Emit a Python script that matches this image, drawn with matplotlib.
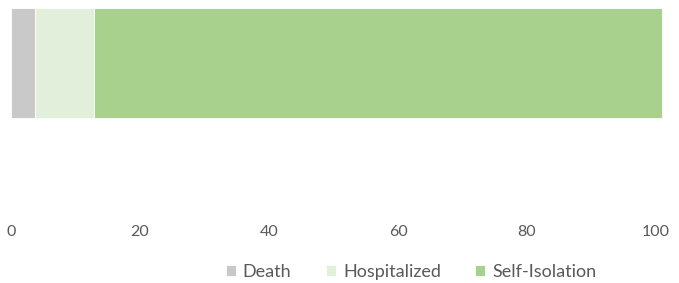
import matplotlib
matplotlib.use("Agg")
import matplotlib.pyplot as plt

# data
categories = ["Death", "Hospitalized", "Self-Isolation"]
values = [3.7, 9.2, 88.0]
colors = ["#C9C9C9", "#E2EFDA", "#A9D18E"]
ticks = [0, 20, 40, 60, 80, 100]

plt.rcParams['font.family'] = ['Lato', 'DejaVu Sans']

fig = plt.figure(figsize=(6.79, 2.83), dpi=100)
W, H = 679, 283
ax = fig.add_axes([11 / W, 1 - 210 / H, 645 / W, 202 / H])

left = 0
for cat, val, col in zip(categories, values, colors):
    ax.barh(0, val, left=left, height=1, color=col, label=cat,
            edgecolor="white", linewidth=0.6, clip_on=False)
    left += val

ax.set_xlim(0, 100)
ax.set_ylim(0.5 - 202 / 110, 0.5)
ax.set_xticks(ticks)
ax.set_yticks([])
ax.tick_params(axis='x', length=0, pad=11, labelsize=11.5, labelcolor="#595959")
for s in ax.spines.values():
    s.set_visible(False)

fig.legend(loc='center', bbox_to_anchor=(411 / W, 1 - 272 / H), ncol=3,
           frameon=False, handlelength=0.55, handleheight=0.55,
           handletextpad=0.4, columnspacing=1.9, fontsize=13,
           labelcolor="#595959")

fig.savefig("out.png", dpi=100)
